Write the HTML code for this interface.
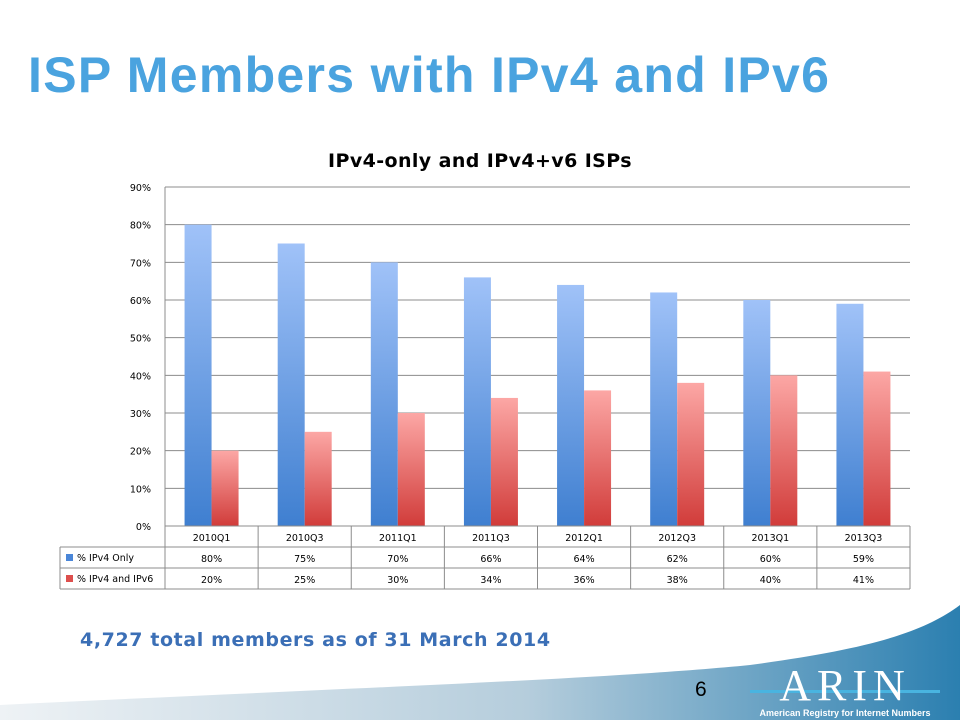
<!DOCTYPE html>
<html><head><meta charset="utf-8"><style>
body{margin:0;width:960px;height:720px;overflow:hidden;background:#fff;font-family:"Liberation Sans",sans-serif;position:relative}
#title{position:absolute;left:28px;top:46px;font-size:50px;font-weight:bold;color:#4aa3df;letter-spacing:1.3px}
#sub{position:absolute;left:80px;top:629px;font-size:19px;font-weight:bold;color:#3b6fb6;font-family:"DejaVu Sans",sans-serif;letter-spacing:0.6px}
#pg{position:absolute;left:695px;top:678px;font-size:21px;color:#000}
#chart text{font-family:"DejaVu Sans",sans-serif}
</style></head><body>
<svg width="960" height="720" style="position:absolute;left:0;top:0">
<defs><linearGradient id="sw" x1="0" y1="0" x2="1" y2="0"><stop offset="0" stop-color="#eef2f5"/><stop offset="0.55" stop-color="#b5cddc"/><stop offset="1" stop-color="#2b7fb0"/></linearGradient>
<linearGradient id="bl" x1="0" y1="1" x2="0" y2="0"><stop offset="0" stop-color="#3f7fd0"/><stop offset="1" stop-color="#a0c2f8"/></linearGradient>
<linearGradient id="rd" x1="0" y1="1" x2="0" y2="0"><stop offset="0" stop-color="#d13c3a"/><stop offset="1" stop-color="#fca7a5"/></linearGradient></defs>
<path d="M0 720 L0 705 C300 690 600 680 750 665 C860 650 920 635 960 605 L960 720 Z" fill="url(#sw)"/>
</svg>
<div id="title">ISP Members with IPv4 and IPv6</div>
<svg id="chart" width="960" height="720" style="position:absolute;left:0;top:0"></svg>
<div id="sub">4,727 total members as of 31 March 2014</div>
<div id="pg">6</div>
<svg width="200" height="60" style="position:absolute;left:750px;top:660px">
<rect x="0" y="30" width="190" height="3" fill="#49b4e0"/>
<text x="95" y="40" text-anchor="middle" font-family="Liberation Serif" font-size="44" fill="#fff" letter-spacing="6">ARIN</text>
<text x="95" y="56" text-anchor="middle" font-size="9" font-weight="bold" fill="#fff">American Registry for Internet Numbers</text>
</svg>
<script>
const categories=["2010Q1","2010Q3","2011Q1","2011Q3","2012Q1","2012Q3","2013Q1","2013Q3"];
const ipv4Only=[80,75,70,66,64,62,60,59];
const ipv4v6=[20,25,30,34,36,38,40,41];
const yTicks=[0,10,20,30,40,50,60,70,80,90];
const seriesNames=["% IPv4 Only","% IPv4 and IPv6"];
const svg=document.getElementById('chart');const NS='http://www.w3.org/2000/svg';
function mk(t,a,txt){const e=document.createElementNS(NS,t);for(const k in a)e.setAttribute(k,a[k]);if(txt!=null)e.textContent=txt;svg.appendChild(e);return e;}
const L=165,R=910,T=187,B=526,legL=60;
const gw=(R-L)/categories.length;
const y=v=>B-(v/90)*(B-T);
const x=i=>L+i*gw;
let e=mk('text',{x:480,y:167,'text-anchor':'middle','font-size':19,'font-weight':'bold',fill:'#000','letter-spacing':0.4},'IPv4-only and IPv4+v6 ISPs');

yTicks.forEach(v=>{
 const g=mk('line',{x1:L,x2:R,y1:y(v),y2:y(v),stroke:'#8c8c8c','stroke-width':1});
 
 const t=mk('text',{x:151,y:y(v)+4,'text-anchor':'end','font-size':9.5,fill:'#000'},v+'%');
 
});
mk('line',{x1:L,x2:L,y1:T,y2:B,stroke:'#8c8c8c'});
categories.forEach((c,i)=>{
 const bw=27,c0=x(i)+gw/2;
 let b=mk('rect',{x:c0-bw,y:y(ipv4Only[i]),width:bw,height:B-y(ipv4Only[i]),fill:'url(#bl)'});
 
 b=mk('rect',{x:c0,y:y(ipv4v6[i]),width:bw,height:B-y(ipv4v6[i]),fill:'url(#rd)'});
 
});
const r0=526,rh=21;
[[L,R,r0],[legL,R,r0+rh],[legL,R,r0+2*rh],[legL,R,r0+3*rh]].forEach(a=>{const l=mk('line',{x1:a[0],x2:a[1],y1:a[2],y2:a[2],stroke:'#8c8c8c'});});
mk('line',{x1:legL,x2:legL,y1:r0+rh,y2:r0+3*rh,stroke:'#8c8c8c'});
for(let i=0;i<=categories.length;i++)mk('line',{x1:x(i),x2:x(i),y1:r0,y2:r0+3*rh,stroke:'#8c8c8c'});
const series=[ipv4Only,ipv4v6],cols=['#4a86d8','#dd4f4d'];
categories.forEach((c,i)=>{
 const t=mk('text',{x:x(i)+gw/2,y:r0+15,'text-anchor':'middle','font-size':9.5},c);
 
 series.forEach((s,j)=>{const v=mk('text',{x:x(i)+gw/2,y:r0+rh*(j+1)+15,'text-anchor':'middle','font-size':9.5},s[i]+'%');
 });
});
seriesNames.forEach((n,j)=>{
 const k=mk('rect',{x:66,y:r0+rh*(j+1)+7,width:7,height:7,fill:cols[j]});
 
 const t=mk('text',{x:77,y:r0+rh*(j+1)+14,'font-size':9.5},n);
 
});
</script>
</body></html>
